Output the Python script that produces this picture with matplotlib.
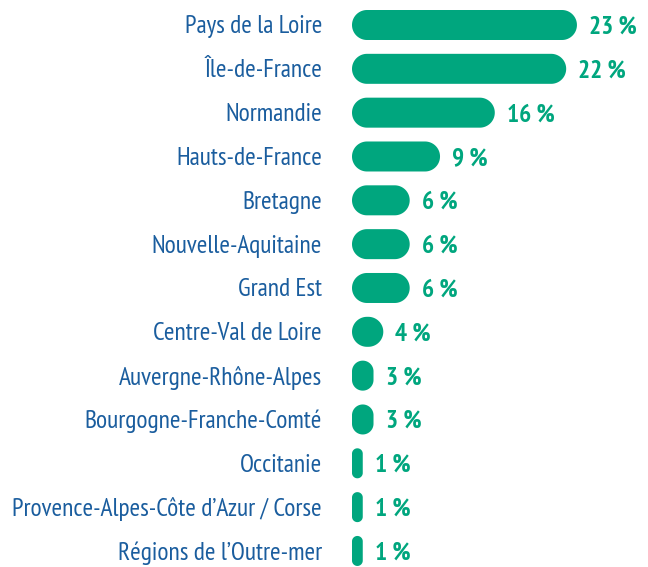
import matplotlib
matplotlib.use("Agg")
import numpy as np
import matplotlib.pyplot as plt
from matplotlib.patches import Polygon

# data (bar lengths in %, labels as printed)
regions = [
    "Pays de la Loire",
    "Île-de-France",
    "Normandie",
    "Hauts-de-France",
    "Bretagne",
    "Nouvelle-Aquitaine",
    "Grand Est",
    "Centre-Val de Loire",
    "Auvergne-Rhône-Alpes",
    "Bourgogne-Franche-Comté",
    "Occitanie",
    "Provence-Alpes-Côte d’Azur / Corse",
    "Régions de l’Outre-mer",
]
shares = [23, 21.9, 14.6, 9.0, 5.9, 5.9, 5.9, 3.2, 2.2, 2.2, 1.1, 1.1, 1.1]
share_labels = ["23 %", "22 %", "16 %", "9 %", "6 %", "6 %", "6 %",
                "4 %", "3 %", "3 %", "1 %", "1 %", "1 %"]

GREEN = "#00a67e"
BLUE = "#1a5d9e"
FONT = ["PT Sans Narrow", "DejaVu Sans"]

W, H, DPI = 648, 567, 100
PX_PER_PCT = 9.78          # horizontal scale, pixels per percent
ROW0, ROW_STEP = 25, 43.83  # first row centre and row pitch, pixels
BAR_H_PX = 30
LEFT_PX = 352
TEXT_DY = 2 / PX_PER_PCT    # nudge labels down a touch


def stadium(x0, y0, w, h, n=24):
    # rectangle with fully rounded ends (circular arcs)
    r = min(w, h) / 2
    centres = [(x0 + w - r, y0 + r, -90), (x0 + w - r, y0 + h - r, 0),
               (x0 + r, y0 + h - r, 90), (x0 + r, y0 + r, 180)]
    pts = []
    for cx, cy, a0 in centres:
        t = np.radians(np.linspace(a0, a0 + 90, n))
        pts.append(np.column_stack([cx + r * np.cos(t), cy + r * np.sin(t)]))
    return np.vstack(pts)


fig = plt.figure(figsize=(W / DPI, H / DPI), dpi=DPI)
ax = fig.add_axes([LEFT_PX / W, 0, (W - LEFT_PX) / W, 1])
# same pixel scale on both axes so the rounded ends stay circular
ax.set_xlim(0, (W - LEFT_PX) / PX_PER_PCT)
ax.set_ylim(H / PX_PER_PCT, 0)
ax.axis("off")

step = ROW_STEP / PX_PER_PCT
bar_h = BAR_H_PX / PX_PER_PCT

for i, (name, val, lab) in enumerate(zip(regions, shares, share_labels)):
    yc = ROW0 / PX_PER_PCT + i * step
    ax.add_patch(Polygon(stadium(0, yc - bar_h / 2, val, bar_h), closed=True,
                         facecolor=GREEN, edgecolor="none"))
    ax.text(val + 12 / PX_PER_PCT, yc + TEXT_DY, lab, ha="left", va="center",
            fontsize=18.3, fontweight="bold", color=GREEN, family=FONT)
    ax.text(-30 / PX_PER_PCT, yc + TEXT_DY, name, ha="right", va="center",
            fontsize=18.3, color=BLUE, family=FONT, clip_on=False)

fig.savefig("out.png", dpi=DPI)
